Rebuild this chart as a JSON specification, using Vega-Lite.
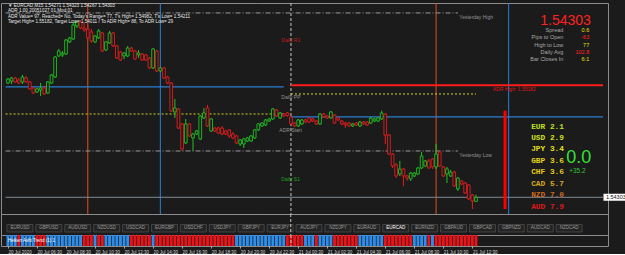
{
"$schema": "https://vega.github.io/schema/vega-lite/v6.json",
"background": "#1b1b1b",
"padding": {"top": 2, "left": 0, "right": 0, "bottom": 0},
"spacing": 0,
"bounds": "flush",
"config": {"font": "Liberation Sans", "view": {"stroke": "#8c8c8c", "strokeWidth": 1}, "concat": {"spacing": 0}, "axis": {"grid": false, "title": null}, "axisX": {"labelOverlap": false}},
"datasets": {
"candles": [
{"t":"2020-07-20T04:30Z","o":1.55199,"h":1.55238,"l":1.55191,"c":1.55230,"ha":"b"},
{"t":"2020-07-20T04:45Z","o":1.55215,"h":1.55246,"l":1.55191,"c":1.55238,"ha":"b"},
{"t":"2020-07-20T05:00Z","o":1.55238,"h":1.55246,"l":1.55199,"c":1.55207,"ha":"b"},
{"t":"2020-07-20T05:15Z","o":1.55223,"h":1.55238,"l":1.55191,"c":1.55199,"ha":"r"},
{"t":"2020-07-20T05:30Z","o":1.55207,"h":1.55262,"l":1.55191,"c":1.55246,"ha":"b"},
{"t":"2020-07-20T05:45Z","o":1.55238,"h":1.55254,"l":1.55199,"c":1.55207,"ha":"b"},
{"t":"2020-07-20T06:00Z","o":1.55207,"h":1.55215,"l":1.55144,"c":1.55152,"ha":"b"},
{"t":"2020-07-20T06:15Z","o":1.55160,"h":1.55168,"l":1.55113,"c":1.55121,"ha":"b"},
{"t":"2020-07-20T06:30Z","o":1.55128,"h":1.55160,"l":1.55121,"c":1.55152,"ha":"r"},
{"t":"2020-07-20T06:45Z","o":1.55144,"h":1.55199,"l":1.55097,"c":1.55160,"ha":"r"},
{"t":"2020-07-20T07:00Z","o":1.55160,"h":1.55176,"l":1.55105,"c":1.55113,"ha":"r"},
{"t":"2020-07-20T07:15Z","o":1.55121,"h":1.55215,"l":1.55113,"c":1.55207,"ha":"b"},
{"t":"2020-07-20T07:30Z","o":1.55199,"h":1.55270,"l":1.55191,"c":1.55262,"ha":"b"},
{"t":"2020-07-20T07:45Z","o":1.55246,"h":1.55411,"l":1.55238,"c":1.55403,"ha":"b"},
{"t":"2020-07-20T08:00Z","o":1.55411,"h":1.55466,"l":1.55403,"c":1.55450,"ha":"b"},
{"t":"2020-07-20T08:15Z","o":1.55419,"h":1.55450,"l":1.55403,"c":1.55434,"ha":"b"},
{"t":"2020-07-20T08:30Z","o":1.55426,"h":1.55544,"l":1.55419,"c":1.55536,"ha":"b"},
{"t":"2020-07-20T08:45Z","o":1.55521,"h":1.55560,"l":1.55513,"c":1.55552,"ha":"b"},
{"t":"2020-07-20T09:00Z","o":1.55544,"h":1.55677,"l":1.55536,"c":1.55654,"ha":"b"},
{"t":"2020-07-20T09:15Z","o":1.55646,"h":1.55685,"l":1.55630,"c":1.55677,"ha":"b"},
{"t":"2020-07-20T09:30Z","o":1.55677,"h":1.55693,"l":1.55622,"c":1.55630,"ha":"b"},
{"t":"2020-07-20T09:45Z","o":1.55630,"h":1.55669,"l":1.55599,"c":1.55615,"ha":"r"},
{"t":"2020-07-20T10:00Z","o":1.55622,"h":1.55654,"l":1.55544,"c":1.55552,"ha":"r"},
{"t":"2020-07-20T10:15Z","o":1.55599,"h":1.55622,"l":1.55513,"c":1.55528,"ha":"r"},
{"t":"2020-07-20T10:30Z","o":1.55521,"h":1.55575,"l":1.55513,"c":1.55568,"ha":"b"},
{"t":"2020-07-20T10:45Z","o":1.55552,"h":1.55622,"l":1.55544,"c":1.55607,"ha":"r"},
{"t":"2020-07-20T11:00Z","o":1.55591,"h":1.55599,"l":1.55442,"c":1.55450,"ha":"r"},
{"t":"2020-07-20T11:15Z","o":1.55458,"h":1.55528,"l":1.55450,"c":1.55521,"ha":"b"},
{"t":"2020-07-20T11:30Z","o":1.55513,"h":1.55607,"l":1.55505,"c":1.55591,"ha":"b"},
{"t":"2020-07-20T11:45Z","o":1.55591,"h":1.55599,"l":1.55481,"c":1.55489,"ha":"b"},
{"t":"2020-07-20T12:00Z","o":1.55489,"h":1.55497,"l":1.55387,"c":1.55395,"ha":"b"},
{"t":"2020-07-20T12:15Z","o":1.55442,"h":1.55450,"l":1.55372,"c":1.55379,"ha":"b"},
{"t":"2020-07-20T12:30Z","o":1.55411,"h":1.55442,"l":1.55387,"c":1.55434,"ha":"b"},
{"t":"2020-07-20T12:45Z","o":1.55411,"h":1.55489,"l":1.55403,"c":1.55473,"ha":"b"},
{"t":"2020-07-20T13:00Z","o":1.55473,"h":1.55481,"l":1.55442,"c":1.55450,"ha":"r"},
{"t":"2020-07-20T13:15Z","o":1.55450,"h":1.55458,"l":1.55379,"c":1.55387,"ha":"r"},
{"t":"2020-07-20T13:30Z","o":1.55419,"h":1.55458,"l":1.55395,"c":1.55434,"ha":"r"},
{"t":"2020-07-20T13:45Z","o":1.55426,"h":1.55434,"l":1.55372,"c":1.55379,"ha":"r"},
{"t":"2020-07-20T14:00Z","o":1.55419,"h":1.55426,"l":1.55372,"c":1.55379,"ha":"r"},
{"t":"2020-07-20T14:15Z","o":1.55395,"h":1.55403,"l":1.55309,"c":1.55317,"ha":"r"},
{"t":"2020-07-20T14:30Z","o":1.55317,"h":1.55473,"l":1.55309,"c":1.55466,"ha":"b"},
{"t":"2020-07-20T14:45Z","o":1.55450,"h":1.55458,"l":1.55285,"c":1.55293,"ha":"r"},
{"t":"2020-07-20T15:00Z","o":1.55293,"h":1.55325,"l":1.55285,"c":1.55317,"ha":"r"},
{"t":"2020-07-20T15:15Z","o":1.55317,"h":1.55325,"l":1.55230,"c":1.55238,"ha":"r"},
{"t":"2020-07-20T15:30Z","o":1.55246,"h":1.55254,"l":1.55191,"c":1.55199,"ha":"r"},
{"t":"2020-07-20T15:45Z","o":1.55199,"h":1.55207,"l":1.54972,"c":1.54980,"ha":"r"},
{"t":"2020-07-20T16:00Z","o":1.54972,"h":1.55074,"l":1.54925,"c":1.55003,"ha":"r"},
{"t":"2020-07-20T16:15Z","o":1.54995,"h":1.55003,"l":1.54838,"c":1.54846,"ha":"r"},
{"t":"2020-07-20T16:30Z","o":1.54878,"h":1.54885,"l":1.54666,"c":1.54682,"ha":"r"},
{"t":"2020-07-20T16:45Z","o":1.54729,"h":1.54917,"l":1.54721,"c":1.54878,"ha":"r"},
{"t":"2020-07-20T17:00Z","o":1.54878,"h":1.54885,"l":1.54776,"c":1.54784,"ha":"r"},
{"t":"2020-07-20T17:15Z","o":1.54768,"h":1.54807,"l":1.54666,"c":1.54799,"ha":"r"},
{"t":"2020-07-20T17:30Z","o":1.54799,"h":1.54831,"l":1.54791,"c":1.54823,"ha":"r"},
{"t":"2020-07-20T17:45Z","o":1.54760,"h":1.54948,"l":1.54752,"c":1.54940,"ha":"r"},
{"t":"2020-07-20T18:00Z","o":1.54925,"h":1.55003,"l":1.54917,"c":1.54964,"ha":"r"},
{"t":"2020-07-20T18:15Z","o":1.55003,"h":1.55027,"l":1.54854,"c":1.54862,"ha":"r"},
{"t":"2020-07-20T18:30Z","o":1.54823,"h":1.54925,"l":1.54815,"c":1.54917,"ha":"r"},
{"t":"2020-07-20T18:45Z","o":1.54846,"h":1.54854,"l":1.54815,"c":1.54823,"ha":"r"},
{"t":"2020-07-20T19:00Z","o":1.54846,"h":1.54854,"l":1.54799,"c":1.54807,"ha":"r"},
{"t":"2020-07-20T19:15Z","o":1.54846,"h":1.54862,"l":1.54791,"c":1.54799,"ha":"r"},
{"t":"2020-07-20T19:30Z","o":1.54823,"h":1.54831,"l":1.54791,"c":1.54799,"ha":"r"},
{"t":"2020-07-20T19:45Z","o":1.54831,"h":1.54838,"l":1.54768,"c":1.54784,"ha":"r"},
{"t":"2020-07-20T20:00Z","o":1.54799,"h":1.54815,"l":1.54760,"c":1.54768,"ha":"r"},
{"t":"2020-07-20T20:15Z","o":1.54784,"h":1.54791,"l":1.54721,"c":1.54729,"ha":"b"},
{"t":"2020-07-20T20:30Z","o":1.54721,"h":1.54760,"l":1.54705,"c":1.54752,"ha":"b"},
{"t":"2020-07-20T20:45Z","o":1.54721,"h":1.54768,"l":1.54689,"c":1.54760,"ha":"b"},
{"t":"2020-07-20T21:00Z","o":1.54744,"h":1.54776,"l":1.54737,"c":1.54768,"ha":"b"},
{"t":"2020-07-20T21:15Z","o":1.54744,"h":1.54791,"l":1.54737,"c":1.54784,"ha":"b"},
{"t":"2020-07-20T21:30Z","o":1.54768,"h":1.54838,"l":1.54760,"c":1.54831,"ha":"b"},
{"t":"2020-07-20T21:45Z","o":1.54831,"h":1.54885,"l":1.54823,"c":1.54878,"ha":"b"},
{"t":"2020-07-20T22:00Z","o":1.54862,"h":1.54893,"l":1.54854,"c":1.54885,"ha":"b"},
{"t":"2020-07-20T22:15Z","o":1.54870,"h":1.54917,"l":1.54862,"c":1.54909,"ha":"b"},
{"t":"2020-07-20T22:30Z","o":1.54901,"h":1.54925,"l":1.54893,"c":1.54917,"ha":"b"},
{"t":"2020-07-20T22:45Z","o":1.54917,"h":1.55003,"l":1.54909,"c":1.54995,"ha":"b"},
{"t":"2020-07-20T23:00Z","o":1.54987,"h":1.54995,"l":1.54933,"c":1.54940,"ha":"b"},
{"t":"2020-07-20T23:15Z","o":1.54925,"h":1.54972,"l":1.54917,"c":1.54964,"ha":"b"},
{"t":"2020-07-20T23:30Z","o":1.54956,"h":1.54964,"l":1.54933,"c":1.54940,"ha":"b"},
{"t":"2020-07-20T23:45Z","o":1.54964,"h":1.54972,"l":1.54933,"c":1.54944,"ha":"r"},
{"t":"2020-07-21T00:00Z","o":1.54933,"h":1.54940,"l":1.54870,"c":1.54878,"ha":"r"},
{"t":"2020-07-21T00:15Z","o":1.54885,"h":1.54893,"l":1.54854,"c":1.54862,"ha":"r"},
{"t":"2020-07-21T00:30Z","o":1.54862,"h":1.54917,"l":1.54854,"c":1.54909,"ha":"r"},
{"t":"2020-07-21T00:45Z","o":1.54878,"h":1.54917,"l":1.54870,"c":1.54909,"ha":"r"},
{"t":"2020-07-21T01:00Z","o":1.54909,"h":1.54917,"l":1.54885,"c":1.54893,"ha":"b"},
{"t":"2020-07-21T01:15Z","o":1.54925,"h":1.54933,"l":1.54885,"c":1.54893,"ha":"b"},
{"t":"2020-07-21T01:30Z","o":1.54917,"h":1.54925,"l":1.54893,"c":1.54901,"ha":"b"},
{"t":"2020-07-21T01:45Z","o":1.54901,"h":1.54909,"l":1.54870,"c":1.54878,"ha":"r"},
{"t":"2020-07-21T02:00Z","o":1.54878,"h":1.54964,"l":1.54870,"c":1.54956,"ha":"b"},
{"t":"2020-07-21T02:15Z","o":1.54956,"h":1.54964,"l":1.54925,"c":1.54933,"ha":"b"},
{"t":"2020-07-21T02:30Z","o":1.54940,"h":1.54948,"l":1.54917,"c":1.54925,"ha":"b"},
{"t":"2020-07-21T02:45Z","o":1.54925,"h":1.54980,"l":1.54917,"c":1.54972,"ha":"b"},
{"t":"2020-07-21T03:00Z","o":1.54948,"h":1.54956,"l":1.54878,"c":1.54885,"ha":"r"},
{"t":"2020-07-21T03:15Z","o":1.54925,"h":1.54933,"l":1.54901,"c":1.54909,"ha":"r"},
{"t":"2020-07-21T03:30Z","o":1.54901,"h":1.54909,"l":1.54870,"c":1.54878,"ha":"r"},
{"t":"2020-07-21T03:45Z","o":1.54885,"h":1.54893,"l":1.54846,"c":1.54870,"ha":"r"},
{"t":"2020-07-21T04:00Z","o":1.54885,"h":1.54893,"l":1.54854,"c":1.54862,"ha":"r"},
{"t":"2020-07-21T04:15Z","o":1.54862,"h":1.54885,"l":1.54854,"c":1.54878,"ha":"r"},
{"t":"2020-07-21T04:30Z","o":1.54885,"h":1.54893,"l":1.54862,"c":1.54870,"ha":"r"},
{"t":"2020-07-21T04:45Z","o":1.54862,"h":1.54901,"l":1.54854,"c":1.54893,"ha":"b"},
{"t":"2020-07-21T05:00Z","o":1.54893,"h":1.54901,"l":1.54870,"c":1.54878,"ha":"b"},
{"t":"2020-07-21T05:15Z","o":1.54893,"h":1.54901,"l":1.54862,"c":1.54870,"ha":"b"},
{"t":"2020-07-21T05:30Z","o":1.54885,"h":1.54933,"l":1.54878,"c":1.54925,"ha":"b"},
{"t":"2020-07-21T05:45Z","o":1.54901,"h":1.54925,"l":1.54893,"c":1.54917,"ha":"b"},
{"t":"2020-07-21T06:00Z","o":1.54901,"h":1.54933,"l":1.54893,"c":1.54925,"ha":"b"},
{"t":"2020-07-21T06:15Z","o":1.54917,"h":1.54982,"l":1.54909,"c":1.54964,"ha":"b"},
{"t":"2020-07-21T06:30Z","o":1.54956,"h":1.54964,"l":1.54721,"c":1.54791,"ha":"r"},
{"t":"2020-07-21T06:45Z","o":1.54791,"h":1.54799,"l":1.54635,"c":1.54642,"ha":"r"},
{"t":"2020-07-21T07:00Z","o":1.54642,"h":1.54650,"l":1.54533,"c":1.54548,"ha":"r"},
{"t":"2020-07-21T07:15Z","o":1.54556,"h":1.54572,"l":1.54454,"c":1.54470,"ha":"r"},
{"t":"2020-07-21T07:30Z","o":1.54486,"h":1.54588,"l":1.54470,"c":1.54525,"ha":"r"},
{"t":"2020-07-21T07:45Z","o":1.54525,"h":1.54533,"l":1.54392,"c":1.54470,"ha":"r"},
{"t":"2020-07-21T08:00Z","o":1.54470,"h":1.54478,"l":1.54431,"c":1.54454,"ha":"r"},
{"t":"2020-07-21T08:15Z","o":1.54446,"h":1.54501,"l":1.54431,"c":1.54493,"ha":"r"},
{"t":"2020-07-21T08:30Z","o":1.54470,"h":1.54501,"l":1.54462,"c":1.54493,"ha":"b"},
{"t":"2020-07-21T08:45Z","o":1.54486,"h":1.54541,"l":1.54478,"c":1.54533,"ha":"b"},
{"t":"2020-07-21T09:00Z","o":1.54533,"h":1.54658,"l":1.54525,"c":1.54627,"ha":"b"},
{"t":"2020-07-21T09:15Z","o":1.54548,"h":1.54595,"l":1.54541,"c":1.54588,"ha":"b"},
{"t":"2020-07-21T09:30Z","o":1.54588,"h":1.54603,"l":1.54525,"c":1.54533,"ha":"r"},
{"t":"2020-07-21T09:45Z","o":1.54603,"h":1.54611,"l":1.54525,"c":1.54541,"ha":"b"},
{"t":"2020-07-21T10:00Z","o":1.54541,"h":1.54721,"l":1.54525,"c":1.54642,"ha":"r"},
{"t":"2020-07-21T10:15Z","o":1.54658,"h":1.54666,"l":1.54541,"c":1.54548,"ha":"r"},
{"t":"2020-07-21T10:30Z","o":1.54541,"h":1.54548,"l":1.54462,"c":1.54470,"ha":"r"},
{"t":"2020-07-21T10:45Z","o":1.54486,"h":1.54541,"l":1.54415,"c":1.54525,"ha":"r"},
{"t":"2020-07-21T11:00Z","o":1.54470,"h":1.54517,"l":1.54462,"c":1.54501,"ha":"r"},
{"t":"2020-07-21T11:15Z","o":1.54501,"h":1.54509,"l":1.54384,"c":1.54392,"ha":"r"},
{"t":"2020-07-21T11:30Z","o":1.54368,"h":1.54462,"l":1.54352,"c":1.54454,"ha":"r"},
{"t":"2020-07-21T11:45Z","o":1.54431,"h":1.54439,"l":1.54399,"c":1.54407,"ha":"r"},
{"t":"2020-07-21T12:00Z","o":1.54415,"h":1.54423,"l":1.54329,"c":1.54337,"ha":"r"},
{"t":"2020-07-21T12:15Z","o":1.54399,"h":1.54407,"l":1.54282,"c":1.54290,"ha":"r"},
{"t":"2020-07-21T12:30Z","o":1.54321,"h":1.54329,"l":1.54211,"c":1.54274,"ha":"r"},
{"t":"2020-07-21T12:45Z","o":1.54271,"h":1.54323,"l":1.54267,"c":1.54303,"ha":"r"}
]
},
"vconcat": [
{
"width": 607, "height": 211,
"encoding": {"x": {"field": "t", "type": "temporal", "scale": {"type": "utc", "domain": [1595218914000, 1595367000000]}, "axis": null}},
"layer": [
{"data": {"values": [{"t": "2020-07-20T10:00Z"}, {"t": "2020-07-21T10:00Z"}]}, "mark": {"type": "rule", "color": "#e0501e", "strokeWidth": 1}, "encoding": {}},
{"data": {"values": [{"t": "2020-07-20T15:00Z"}, {"t": "2020-07-21T15:00Z"}]}, "mark": {"type": "rule", "color": "#2a7fd6", "strokeWidth": 1}, "encoding": {}},
{"data": {"values": [{"t": "2020-07-21T00:00Z"}]}, "mark": {"type": "rule", "color": "#c8c8c8", "strokeWidth": 1, "strokeDash": [3, 2]}, "encoding": {}},
{"data": {"values": [{"t": "2020-07-20T04:20Z", "t2": "2020-07-21T11:30Z", "p": 1.55748}, {"t": "2020-07-20T04:20Z", "t2": "2020-07-21T11:30Z", "p": 1.54666}]},
 "mark": {"type": "rule", "color": "#9a9a9a", "strokeWidth": 1, "strokeDash": [5, 2, 1, 2]},
 "encoding": {"x2": {"field": "t2"}, "y": {"field": "p", "type": "quantitative", "scale": {"domain": [1.54172, 1.55826], "zero": false, "nice": false}, "axis": null}}},
{"data": {"values": [{"t": "2020-07-20T04:20Z", "t2": "2020-07-20T23:30Z", "p": 1.54956}, {"t": "2020-07-21T00:00Z", "t2": "2020-07-21T12:45Z", "p": 1.55113}]},
 "mark": {"type": "rule", "color": "#d6d62a", "strokeWidth": 1, "strokeDash": [2, 2]},
 "encoding": {"x2": {"field": "t2"}, "y": {"field": "p", "type": "quantitative", "axis": null}}},
{"data": {"values": [{"t": "2020-07-20T04:20Z", "t2": "2020-07-20T23:30Z", "p": 1.55168}, {"t": "2020-07-21T00:00Z", "t2": "2020-07-21T21:30Z", "p": 1.54933}]},
 "mark": {"type": "rule", "color": "#2a7fd6", "strokeWidth": 1.3},
 "encoding": {"x2": {"field": "t2"}, "y": {"field": "p", "type": "quantitative", "axis": null}}},
{"data": {"values": [{"t": "2020-07-20T04:20Z", "t2": "2020-07-21T21:30Z", "p": 1.54303}]},
 "mark": {"type": "rule", "color": "#7f8b96", "strokeWidth": 1},
 "encoding": {"x2": {"field": "t2"}, "y": {"field": "p", "type": "quantitative", "axis": null}}},
{"data": {"values": [{"t": "2020-07-21T00:00Z", "t2": "2020-07-21T21:30Z", "p": 1.55182}]},
 "mark": {"type": "rule", "color": "#ff1c1c", "strokeWidth": 2},
 "encoding": {"x2": {"field": "t2"}, "y": {"field": "p", "type": "quantitative", "axis": null}}},
{"data": {"values": [{"t": "2020-07-21T14:45Z", "p": 1.54982, "p2": 1.54211}]},
 "mark": {"type": "rule", "color": "#ff0000", "strokeWidth": 3},
 "encoding": {"y": {"field": "p", "type": "quantitative", "axis": null}, "y2": {"field": "p2"}}},
{"data": {"name": "candles"},
 "mark": {"type": "rule", "strokeWidth": 1},
 "encoding": {"y": {"field": "l", "type": "quantitative", "axis": {"orient": "right", "values": [1.5574, 1.5562, 1.555, 1.5538, 1.5526, 1.5514, 1.5502, 1.549, 1.5478, 1.5466, 1.5454, 1.5442, 1.5418], "format": ".5f", "labelFontSize": 5.5, "labelColor": "#d8d8d8", "tickSize": 2, "tickColor": "#aaaaaa", "domain": false, "labelPadding": 2, "title": null}},
  "y2": {"field": "h"},
  "color": {"condition": {"test": "datum.c >= datum.o", "value": "#1fc21f"}, "value": "#e21e1e"}}},
{"data": {"name": "candles"},
 "mark": {"type": "bar", "width": 2.7, "fill": "#1b1b1b", "strokeWidth": 0.9},
 "encoding": {"y": {"field": "o", "type": "quantitative", "axis": null}, "y2": {"field": "c"},
  "stroke": {"condition": {"test": "datum.c >= datum.o", "value": "#1fc21f"}, "value": "#e21e1e"}}},
{"data": {"values": [
  {"t": "2020-07-20T04:30Z", "p": 1.55803, "s": "▼ EURCAD,M15  1.54271 1.54323 1.54267 1.54303"},
  {"t": "2020-07-20T04:30Z", "p": 1.55763, "s": "ADR 1.00 20051027 01.Mod.01"},
  {"t": "2020-07-20T04:30Z", "p": 1.55716, "s": "ADR Value= 97, Reached= No, Today's Range= 77, T's High= 1.54982, T's Low= 1.54211"},
  {"t": "2020-07-20T04:30Z", "p": 1.55677, "s": "Target High= 1.55182, Target Low= 1.54011 / To ADR High= 88, To ADR Low= 29"}]},
 "mark": {"type": "text", "align": "left", "baseline": "middle", "fontSize": 4.6, "color": "#e8e8e8"},
 "encoding": {"y": {"field": "p", "type": "quantitative", "axis": null}, "text": {"field": "s"}}},
{"data": {"values": [{"t": "2020-07-20T23:20Z", "p": 1.55536, "s": "Daily R1"}]},
 "mark": {"type": "text", "align": "left", "baseline": "middle", "fontSize": 5, "color": "#c01c1c"},
 "encoding": {"y": {"field": "p", "type": "quantitative", "axis": null}, "text": {"field": "s"}}},
{"data": {"values": [{"t": "2020-07-20T23:20Z", "p": 1.55089, "s": "Daily PP"}, {"t": "2020-07-20T23:12Z", "p": 1.54831, "s": "ADR Start"}, {"t": "2020-07-21T11:36Z", "p": 1.55716, "s": "Yesterday High"}, {"t": "2020-07-21T11:36Z", "p": 1.54635, "s": "Yesterday Low"}]},
 "mark": {"type": "text", "align": "left", "baseline": "middle", "fontSize": 5, "color": "#939393"},
 "encoding": {"y": {"field": "p", "type": "quantitative", "axis": null}, "text": {"field": "s"}}},
{"data": {"values": [{"t": "2020-07-20T23:20Z", "p": 1.54446, "s": "Daily S1"}]},
 "mark": {"type": "text", "align": "left", "baseline": "middle", "fontSize": 5, "color": "#20a020"},
 "encoding": {"y": {"field": "p", "type": "quantitative", "axis": null}, "text": {"field": "s"}}},
{"data": {"values": [{"t": "2020-07-21T13:54Z", "p": 1.55152, "s": "ADR High: 1.55182"}]},
 "mark": {"type": "text", "align": "left", "baseline": "middle", "fontSize": 5, "color": "#e01414"},
 "encoding": {"y": {"field": "p", "type": "quantitative", "axis": null}, "text": {"field": "s"}}},
{"data": {"values": [{"t": "2020-07-21T20:40Z", "p": 1.55685, "s": "1.54303"}]},
 "mark": {"type": "text", "align": "right", "baseline": "middle", "fontSize": 14, "color": "#ff2020"},
 "encoding": {"y": {"field": "p", "type": "quantitative", "axis": null}, "text": {"field": "s"}}},
{"data": {"values": [{"t": "2020-07-21T18:46Z", "p": 1.55612, "s": "Spread"}, {"t": "2020-07-21T18:46Z", "p": 1.55556, "s": "Pips to Open"}, {"t": "2020-07-21T18:46Z", "p": 1.55499, "s": "High to Low"}, {"t": "2020-07-21T18:46Z", "p": 1.55443, "s": "Daily Avg"}, {"t": "2020-07-21T18:46Z", "p": 1.55386, "s": "Bar Closes In"}]},
 "mark": {"type": "text", "align": "right", "baseline": "middle", "fontSize": 5.5, "color": "#a8a8a8"},
 "encoding": {"y": {"field": "p", "type": "quantitative", "axis": null}, "text": {"field": "s"}}},
{"data": {"values": [{"t": "2020-07-21T20:33Z", "p": 1.55612, "s": "0.6"}, {"t": "2020-07-21T20:33Z", "p": 1.55499, "s": "77"}, {"t": "2020-07-21T20:33Z", "p": 1.55386, "s": "6:1"}]},
 "mark": {"type": "text", "align": "right", "baseline": "middle", "fontSize": 5.5, "color": "#e6e014"},
 "encoding": {"y": {"field": "p", "type": "quantitative", "axis": null}, "text": {"field": "s"}}},
{"data": {"values": [{"t": "2020-07-21T20:33Z", "p": 1.55556, "s": "-63"}, {"t": "2020-07-21T20:33Z", "p": 1.55443, "s": "102.8"}]},
 "mark": {"type": "text", "align": "right", "baseline": "middle", "fontSize": 5.5, "color": "#ff2424"},
 "encoding": {"y": {"field": "p", "type": "quantitative", "axis": null}, "text": {"field": "s"}}},
{"data": {"values": [
  {"t": "2020-07-21T16:33Z", "p": 1.54854, "cur": "EUR", "s": "EUR  2.1"},
  {"t": "2020-07-21T16:33Z", "p": 1.54768, "cur": "USD", "s": "USD  2.9"},
  {"t": "2020-07-21T16:33Z", "p": 1.54682, "cur": "JPY", "s": "JPY  3.4"},
  {"t": "2020-07-21T16:33Z", "p": 1.54588, "cur": "GBP", "s": "GBP  3.6"},
  {"t": "2020-07-21T16:33Z", "p": 1.54501, "cur": "CHF", "s": "CHF  3.6"},
  {"t": "2020-07-21T16:33Z", "p": 1.54407, "cur": "CAD", "s": "CAD  5.7"},
  {"t": "2020-07-21T16:33Z", "p": 1.54321, "cur": "NZD", "s": "NZD  7.0"},
  {"t": "2020-07-21T16:33Z", "p": 1.54227, "cur": "AUD", "s": "AUD  7.9"}]},
 "mark": {"type": "text", "align": "left", "baseline": "middle", "fontSize": 7.8, "font": "Liberation Mono", "fontWeight": "bold"},
 "encoding": {"y": {"field": "p", "type": "quantitative", "axis": null}, "text": {"field": "s"},
  "color": {"field": "cur", "type": "nominal", "legend": null, "scale": {"domain": ["EUR", "USD", "JPY", "GBP", "CHF", "CAD", "NZD", "AUD"], "range": ["#bfe01e", "#d2e01a", "#e6e014", "#e6d214", "#e6cc14", "#d8a61e", "#cf6a1e", "#e01818"]}}}},
{"data": {"values": [{"t": "2020-07-21T18:58Z", "p": 1.54611, "s": "0.0"}]},
 "mark": {"type": "text", "align": "left", "baseline": "middle", "fontSize": 18, "color": "#33e033"},
 "encoding": {"y": {"field": "p", "type": "quantitative", "axis": null}, "text": {"field": "s"}}},
{"data": {"values": [{"t": "2020-07-21T19:10Z", "p": 1.54509, "s": "+35.2"}]},
 "mark": {"type": "text", "align": "left", "baseline": "middle", "fontSize": 6.5, "color": "#33c033"},
 "encoding": {"y": {"field": "p", "type": "quantitative", "axis": null}, "text": {"field": "s"}}},
{"data": {"values": [{"t": "2020-07-21T21:32Z", "t2": "2020-07-22T00:30Z", "p": 1.54303}]},
 "mark": {"type": "rule", "color": "#ffffff", "strokeWidth": 7},
 "encoding": {"x2": {"field": "t2"}, "y": {"field": "p", "type": "quantitative", "axis": null}}},
{"data": {"values": [{"t": "2020-07-21T21:42Z", "p": 1.54303, "s": "1.54303"}]},
 "mark": {"type": "text", "align": "left", "baseline": "middle", "fontSize": 5.5, "color": "#111111"},
 "encoding": {"y": {"field": "p", "type": "quantitative", "axis": null}, "text": {"field": "s"}}}
]
},
{
"width": 607, "height": 21,
"resolve": {"scale": {"x": "independent"}},
"layer": [
{"data": {"values": [{"pair": "EURUSD"}, {"pair": "GBPUSD"}, {"pair": "AUDUSD"}, {"pair": "NZDUSD"}, {"pair": "USDCAD"}, {"pair": "EURGBP"}, {"pair": "USDCHF"}, {"pair": "USDJPY"}, {"pair": "GBPJPY"}, {"pair": "EURJPY"}, {"pair": "AUDJPY"}, {"pair": "NZDJPY"}, {"pair": "EURAUD"}, {"pair": "EURCAD"}, {"pair": "EURNZD"}, {"pair": "GBPAUD"}, {"pair": "GBPCAD"}, {"pair": "GBPNZD"}, {"pair": "AUDCAD"}, {"pair": "NZDCAD"}]},
 "layer": [
  {"mark": {"type": "bar", "width": 26, "fill": "#242424", "stroke": "#4c4c4c", "strokeWidth": 0.8},
   "encoding": {"x": {"field": "pair", "type": "nominal", "sort": null, "scale": {"type": "point", "padding": 1.3, "align": 0.328}, "axis": null},
    "y": {"datum": 0.143, "type": "quantitative", "scale": {"domain": [0, 1]}, "axis": null}, "y2": {"datum": 0.5}}},
  {"mark": {"type": "text", "fontSize": 4.5, "baseline": "middle"},
   "encoding": {"x": {"field": "pair", "type": "nominal", "sort": null, "axis": null},
    "y": {"datum": 0.32, "type": "quantitative", "axis": null}, "text": {"field": "pair"},
    "color": {"condition": {"test": "datum.pair == 'EURCAD'", "value": "#ffffff"}, "value": "#9a9a9a"}}}
 ]},
{"data": {"values": [{"t": "2020-07-21T00:00Z"}]}, "mark": {"type": "rule", "color": "#c8c8c8", "strokeWidth": 1, "strokeDash": [3, 2]},
 "encoding": {"x": {"field": "t", "type": "temporal", "scale": {"type": "utc", "domain": [1595218914000, 1595367000000]}, "axis": null}}}
]
},
{
"width": 607, "height": 11,
"encoding": {"x": {"field": "t", "type": "temporal", "scale": {"type": "utc", "domain": [1595218914000, 1595367000000]},
  "axis": {"values": [1595219400000, 1595226600000, 1595233800000, 1595241000000, 1595248200000, 1595255400000, 1595262600000, 1595269800000, 1595277000000, 1595284200000, 1595291400000, 1595298600000, 1595305800000, 1595313000000, 1595320200000, 1595327400000, 1595334600000], "labelExpr": "time(datum.value) == 1595219400000 ? '20 Jul 2020' : utcFormat(datum.value, '%d %b %H:%M')", "labelAlign": "left", "labelBaseline": "top", "labelFontSize": 4.5, "labelColor": "#d8d8d8", "tickSize": 2, "tickColor": "#aaaaaa", "domain": false, "labelPadding": 1, "labelOverlap": false, "labelFlush": false, "labelBound": false, "title": null}}},
"layer": [
{"data": {"name": "candles"},
 "mark": {"type": "bar", "width": 2.9},
 "encoding": {
  "y": {"datum": 0, "type": "quantitative", "scale": {"domain": [0, 1]}, "axis": null}, "y2": {"datum": 1},
  "color": {"condition": {"test": "datum.ha == 'b'", "value": "#2e8de8"}, "value": "#e8141a"}}},
{"data": {"values": [{"t": "2020-07-21T00:00Z"}]}, "mark": {"type": "rule", "color": "#c8c8c8", "strokeWidth": 1, "strokeDash": [3, 2]}, "encoding": {}},
{"data": {"values": [{"t": "2020-07-20T04:30Z", "s": "Heiken Ashi Trend (1) 1"}]},
 "mark": {"type": "text", "align": "left", "baseline": "middle", "fontSize": 4.5, "color": "#ffffff"},
 "encoding": {"y": {"datum": 0.5, "type": "quantitative", "axis": null}, "text": {"field": "s"}}}
]
}
]
}
